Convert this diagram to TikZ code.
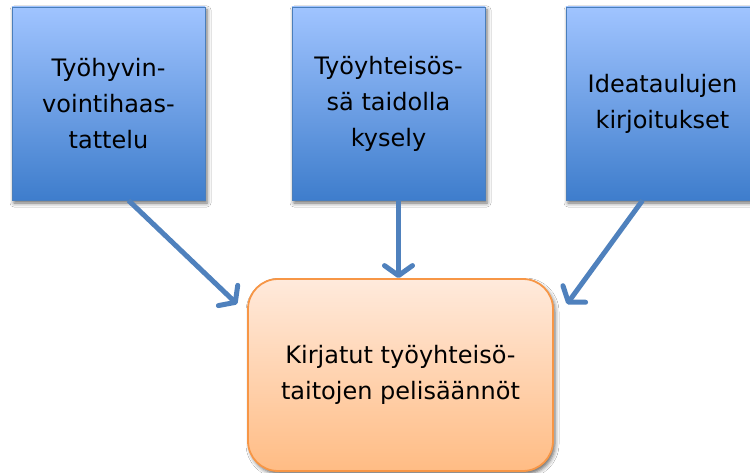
\documentclass[tikz,border=0pt]{standalone}
\usepackage{fontspec}
\setmainfont{DejaVu Sans}
\usetikzlibrary{arrows.meta,shadows.blur}
\definecolor{bluetop}{HTML}{A0C4FF}
\definecolor{bluebot}{HTML}{3E7DCC}
\definecolor{blueline}{HTML}{4A7EBB}
\definecolor{arrowblue}{HTML}{4F81BD}
\definecolor{orangetop}{HTML}{FFEADC}
\definecolor{orangebot}{HTML}{FFBC84}
\definecolor{orangeline}{HTML}{F79646}
\tikzset{
  srcbox/.style={draw=blueline, line width=0.8pt, top color=bluetop, bottom color=bluebot,
    minimum width=193pt, minimum height=193pt, align=center, inner sep=0pt,
    font=\fontsize{24}{36}\selectfont,
    blur shadow={shadow xshift=2pt, shadow yshift=-3pt, shadow blur radius=4pt, shadow opacity=60}},
  resbox/.style={draw=orangeline, line width=1.8pt, top color=orangetop, bottom color=orangebot,
    rounded corners=30pt, minimum width=305pt, minimum height=192pt, align=center, inner sep=0pt,
    font=\fontsize{24}{36}\selectfont,
    blur shadow={shadow xshift=2pt, shadow yshift=-3pt, shadow blur radius=4pt, shadow opacity=60}},
  flow/.style={draw=arrowblue, line width=5pt, -{Straight Barb[length=10pt,width=28pt,round]}}
}
\begin{document}
\begin{tikzpicture}[x=1pt,y=-1pt]
\useasboundingbox[fill=white] (0,0) rectangle (750,473);
\node[srcbox] (a) at (108.5,103.5) {Työhyvin-\\vointihaas-\\tattelu};
\node[srcbox] (b) at (388.5,103.5) {Työyhteisös-\\sä taidolla\\kysely};
\node[srcbox] (d) at (662.5,103.5) {Ideataulujen\\kirjoitukset};
\node[resbox] (c) at (400.5,375) {Kirjatut työyhteisö-\\taitojen pelisäännöt};
\draw[flow] ([xshift=20pt]a.south) -- ([xshift=-10pt,yshift=-26pt]c.north west);
\draw[flow] ([xshift=10pt]b.south) -- ([xshift=10pt]b.south |- c.north);
\draw[flow] ([xshift=-20pt]d.south) -- ([xshift=13pt,yshift=-26pt]c.north east);
\end{tikzpicture}
\end{document}
